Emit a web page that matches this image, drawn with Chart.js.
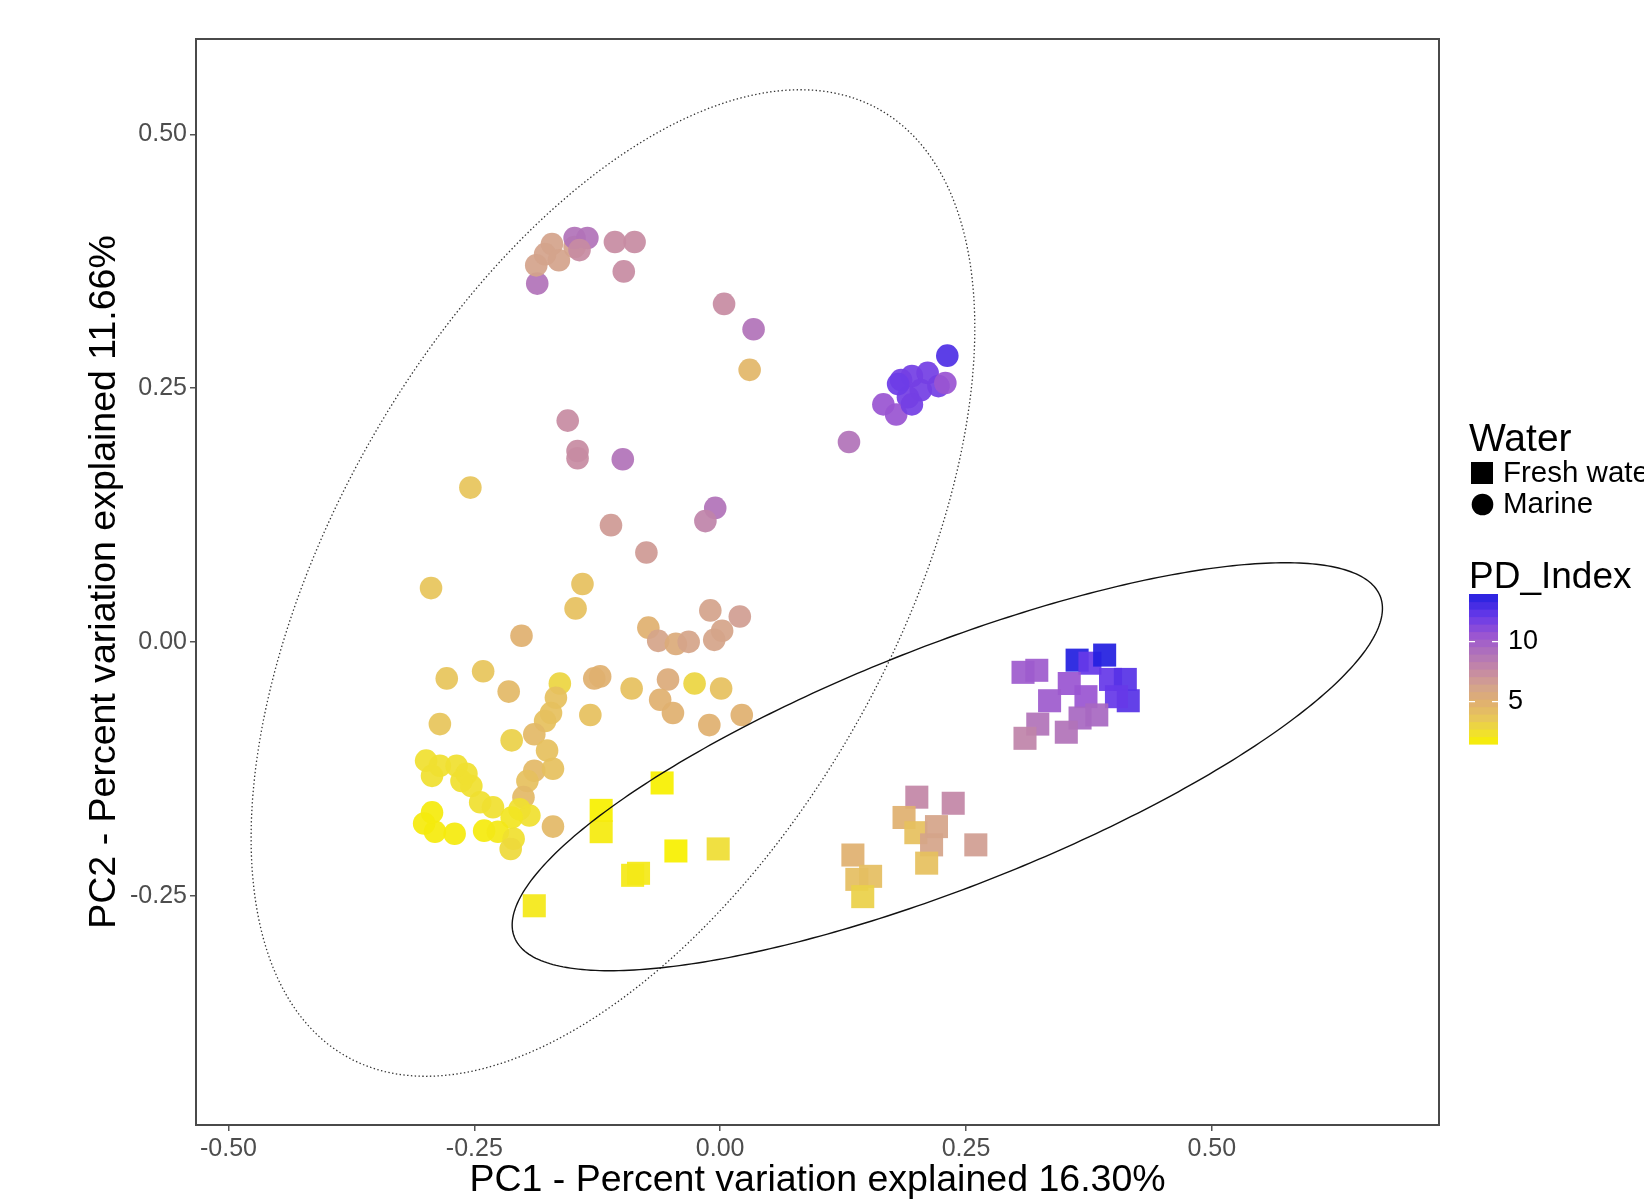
<!DOCTYPE html>
<html>
<head>
<meta charset="utf-8">
<script src="https://cdn.jsdelivr.net/npm/chart.js@4.4.1/dist/chart.umd.min.js"></script>
<style>
  html, body { margin: 0; padding: 0; background: #fff; }
  #wrap { width: 1644px; height: 1203px; }
</style>
</head>
<body>
<div id="wrap"><canvas id="pca"></canvas></div>
<script>
// Axis ticks
const xTicks = [-0.5, -0.25, 0, 0.25, 0.5];
const yTicks = [-0.25, 0, 0.25, 0.5];

// Marine samples (circles)
const marineX = [
  -0.186, -0.187, -0.178, -0.171, -0.164, -0.148, -0.148, -0.135, -0.143, -0.107,
  -0.087, -0.098, 0.004, 0.034, 0.030, -0.155, -0.145, -0.145, -0.099, -0.254,
  -0.005, -0.015, -0.111, -0.075, -0.140, -0.147, -0.294, -0.202, -0.073, -0.063,
  -0.045, -0.032, -0.010, 0.020, 0.002, -0.006, -0.278, -0.241, -0.215, -0.163,
  -0.167, -0.172, -0.178, -0.132, -0.128, -0.122, -0.090, -0.053, -0.061, -0.048,
  -0.026, 0.001, -0.011, 0.022, -0.285, -0.212, -0.189, -0.176, -0.189, -0.196,
  -0.170, -0.200, -0.204, -0.194, -0.170, -0.299, -0.285, -0.268, -0.258, -0.253,
  -0.293, -0.263, -0.244, -0.231, -0.212, -0.293, -0.301, -0.290, -0.270, -0.240,
  -0.226, -0.210, -0.213,
  0.231, 0.184, 0.195, 0.211, 0.204, 0.191, 0.222, 0.229, 0.181, 0.166,
  0.179, 0.195, 0.131
];
const marineY = [
  0.353, 0.371, 0.382, 0.392, 0.376, 0.389, 0.398, 0.398, 0.386, 0.394,
  0.394, 0.365, 0.333, 0.308, 0.268, 0.218, 0.188, 0.181, 0.180, 0.152,
  0.132, 0.119, 0.115, 0.088, 0.057, 0.033, 0.053, 0.006, 0.014, 0.001,
  -0.002, 0.000, 0.031, 0.025, 0.011, 0.002, -0.036, -0.029, -0.049, -0.041,
  -0.055, -0.070, -0.078, -0.072, -0.036, -0.034, -0.046, -0.037, -0.057, -0.070,
  -0.041, -0.046, -0.082, -0.072, -0.081, -0.097, -0.091, -0.107, -0.127, -0.137,
  -0.125, -0.153, -0.165, -0.171, -0.182, -0.117, -0.122, -0.122, -0.130, -0.142,
  -0.132, -0.137, -0.158, -0.163, -0.173, -0.168, -0.179, -0.187, -0.189, -0.186,
  -0.187, -0.194, -0.204,
  0.282, 0.258, 0.262, 0.265, 0.248, 0.241, 0.252, 0.255, 0.254, 0.234,
  0.224, 0.234, 0.197
];
const marinePD = [
  9.0, 6.3, 6.3, 6.3, 6.3, 6.3, 9.0, 9.0, 7.5, 7.5,
  7.5, 7.5, 7.5, 9.0, 4.6, 7.5, 7.5, 7.5, 9.0, 3.8,
  9.0, 8.0, 6.8, 6.8, 4.0, 4.0, 3.8, 5.0, 5.0, 6.2,
  5.5, 6.2, 6.3, 6.6, 6.2, 6.2, 3.8, 3.8, 4.5, 3.0,
  4.0, 4.0, 4.0, 4.0, 5.0, 5.0, 4.0, 5.5, 5.0, 5.0,
  3.0, 4.0, 5.0, 5.0, 3.8, 3.2, 4.5, 4.0, 4.5, 4.0,
  4.0, 4.5, 2.5, 2.5, 4.5, 2.5, 2.5, 2.5, 2.5, 2.5,
  2.5, 2.5, 2.5, 2.5, 2.2, 1.8, 1.8, 1.8, 1.8, 1.8,
  2.0, 2.5, 2.8,
  12.8, 11.8, 11.8, 11.8, 11.8, 11.8, 11.8, 10.6, 12.0, 10.6,
  10.6, 11.8, 9.0
];

// Fresh water samples (squares)
const freshX = [
  -0.189, -0.121, -0.121, -0.059, -0.083, -0.089, -0.045, -0.002,
  0.135, 0.139, 0.153, 0.145, 0.200, 0.237, 0.187, 0.199, 0.220, 0.215, 0.210, 0.260,
  0.308, 0.322, 0.363, 0.376, 0.391, 0.397, 0.412, 0.415, 0.403, 0.355,
  0.335, 0.372, 0.383, 0.366, 0.323, 0.352, 0.310
];
const freshY = [
  -0.260, -0.166, -0.187, -0.139, -0.228, -0.230, -0.206, -0.204,
  -0.210, -0.234, -0.231, -0.251, -0.153, -0.159, -0.173, -0.188, -0.182, -0.200, -0.218, -0.200,
  -0.030, -0.028, -0.018, -0.021, -0.013, -0.037, -0.037, -0.058, -0.054, -0.041,
  -0.058, -0.054, -0.072, -0.075, -0.081, -0.089, -0.095
];
const freshPD = [
  2.0, 1.5, 1.8, 1.5, 2.0, 2.0, 1.5, 2.6,
  5.0, 4.2, 4.2, 3.2, 7.8, 7.8, 5.0, 4.0, 6.2, 6.2, 4.0, 6.6,
  10.3, 10.3, 14.0, 12.2, 14.0, 12.2, 12.6, 12.6, 12.2, 10.6,
  10.3, 10.6, 9.6, 9.6, 9.0, 9.0, 8.0
];

// PD_Index colour scale
const pdStops = [1.5, 2.5, 3.6, 5.0, 6.3, 7.6, 9.2, 10.6, 12.1, 14.0];
const pdColors = ["#f7f000", "#f0e030", "#e8c858", "#e0b070", "#d4a48c", "#c68aa4", "#ae70bc", "#9a55d2", "#6a3ae8", "#2320e0"];
const pdRange = [1.47, 13.97];
const pdLabels = [5, 10];

// Normal-data ellipses: centre and covariance
const marineEllipse = { cx: -0.109, cy: 0.058, sxx: 0.1354, sxy: 0.0925, syy: 0.2362 };
const freshEllipse = { cx: 0.231, cy: -0.123, sxx: 0.1958, sxy: 0.069, syy: 0.0404 };

const FONT = "'Liberation Sans', Arial, sans-serif";

function hexRgb(h) {
  return [1, 3, 5].map((i) => parseInt(h.slice(i, i + 2), 16));
}

// Map a PD value onto the colour scale
function pdColor(v, alpha = 1) {
  let i = 0;
  while (i < pdStops.length - 2 && v > pdStops[i + 1]) i++;
  const t = Math.min(1, Math.max(0, (v - pdStops[i]) / (pdStops[i + 1] - pdStops[i])));
  const a = hexRgb(pdColors[i]);
  const b = hexRgb(pdColors[i + 1]);
  const c = a.map((u, k) => Math.round(u + (b[k] - u) * t));
  return `rgba(${c[0]},${c[1]},${c[2]},${alpha})`;
}

// Draw an ellipse given in data units through the chart scales
function drawEllipse(ctx, xs, ys, e, dash, width, color) {
  const a = Math.sqrt(e.sxx);
  const b = e.sxy / a;
  const c = Math.sqrt(e.syy - b * b);
  ctx.save();
  ctx.setLineDash(dash);
  ctx.lineWidth = width;
  ctx.strokeStyle = color;
  ctx.beginPath();
  for (let k = 0; k <= 360; k++) {
    const t = (k / 360) * Math.PI * 2;
    const px = xs.getPixelForValue(e.cx + a * Math.cos(t));
    const py = ys.getPixelForValue(e.cy + b * Math.cos(t) + c * Math.sin(t));
    if (k === 0) ctx.moveTo(px, py);
    else ctx.lineTo(px, py);
  }
  ctx.closePath();
  ctx.stroke();
  ctx.restore();
}

const extras = {
  id: "extras",
  afterDatasetsDraw(chart) {
    const { ctx, chartArea: area, scales } = chart;
    ctx.save();
    ctx.beginPath();
    ctx.rect(area.left, area.top, area.right - area.left, area.bottom - area.top);
    ctx.clip();
    drawEllipse(ctx, scales.x, scales.y, marineEllipse, [1.4, 2.4], 1.3, "#333");
    drawEllipse(ctx, scales.x, scales.y, freshEllipse, [], 1.4, "#111");
    ctx.restore();

    // panel border
    ctx.save();
    ctx.strokeStyle = "#4a4a4a";
    ctx.lineWidth = 2;
    ctx.strokeRect(area.left, area.top, area.right - area.left, area.bottom - area.top);
    ctx.restore();
  },
  afterDraw(chart) {
    const ctx = chart.ctx;
    ctx.save();
    ctx.fillStyle = "#000";
    ctx.textBaseline = "middle";
    ctx.textAlign = "left";

    // shape legend
    ctx.font = `39px ${FONT}`;
    ctx.fillText("Water", 1469, 440);
    ctx.fillRect(1471, 462, 22, 22);
    ctx.beginPath();
    ctx.arc(1482.5, 504.5, 10.8, 0, Math.PI * 2);
    ctx.fill();
    ctx.font = `29.5px ${FONT}`;
    ctx.fillText("Fresh water", 1503, 474);
    ctx.fillText("Marine", 1503, 505);

    // colour bar
    ctx.font = `37px ${FONT}`;
    ctx.fillText("PD_Index", 1469, 578);
    const barX = 1469, barW = 29, barTop = 594, barH = 150;
    const nbin = 20;
    for (let k = 0; k < nbin; k++) {
      const v = pdRange[0] + ((k + 0.5) / nbin) * (pdRange[1] - pdRange[0]);
      const y0 = barTop + barH - ((k + 1) / nbin) * barH;
      ctx.fillStyle = pdColor(v);
      ctx.fillRect(barX, y0, barW, barH / nbin + 0.6);
    }
    ctx.font = `27px ${FONT}`;
    pdLabels.forEach((v) => {
      const y = barTop + barH - ((v - pdRange[0]) / (pdRange[1] - pdRange[0])) * barH;
      ctx.strokeStyle = "#fff";
      ctx.lineWidth = 1.2;
      ctx.beginPath();
      ctx.moveTo(barX, y); ctx.lineTo(barX + 6, y);
      ctx.moveTo(barX + barW - 6, y); ctx.lineTo(barX + barW, y);
      ctx.stroke();
      ctx.fillStyle = "#000";
      ctx.fillText(String(v), 1508, y);
    });
    ctx.restore();
  },
};

const points = (xs, ys) => xs.map((v, i) => ({ x: v, y: ys[i] }));

new Chart(document.getElementById("pca"), {
  type: "scatter",
  data: {
    datasets: [
      {
        label: "Marine",
        data: points(marineX, marineY),
        pointStyle: "circle",
        pointRadius: 11.3,
        backgroundColor: marinePD.map((v) => pdColor(v, 0.93)),
        borderWidth: 0,
      },
      {
        label: "Fresh water",
        data: points(freshX, freshY),
        pointStyle: "rect",
        pointRadius: 16.3,
        backgroundColor: freshPD.map((v) => pdColor(v, 0.93)),
        borderWidth: 0,
      },
    ],
  },
  options: {
    responsive: true,
    maintainAspectRatio: false,
    animation: false,
    events: [],
    layout: { padding: { left: 70, top: 39, right: 205, bottom: 0 } },
    plugins: { legend: { display: false }, tooltip: { enabled: false } },
    scales: {
      x: {
        type: "linear",
        min: -0.533,
        max: 0.731,
        afterBuildTicks: (s) => { s.ticks = xTicks.map((v) => ({ value: v })); },
        afterFit: (s) => { s.height = 78; },
        ticks: {
          callback: (v) => v.toFixed(2),
          color: "#4d4d4d",
          font: { size: 25, family: FONT },
          padding: 3,
          maxRotation: 0,
          autoSkip: false,
        },
        grid: { drawOnChartArea: false, drawTicks: true, tickLength: 6, color: "#555", lineWidth: 1.5 },
        border: { display: false },
        title: {
          display: true,
          text: "PC1 - Percent variation explained 16.30%",
          color: "#000",
          font: { size: 37.5, family: FONT },
          padding: { top: 0, bottom: 0 },
        },
      },
      y: {
        type: "linear",
        min: -0.476,
        max: 0.594,
        afterBuildTicks: (s) => { s.ticks = yTicks.map((v) => ({ value: v })); },
        afterFit: (s) => { s.width = 126; },
        ticks: {
          callback: (v) => v.toFixed(2),
          color: "#4d4d4d",
          font: { size: 25, family: FONT },
          padding: 3,
          autoSkip: false,
        },
        grid: { drawOnChartArea: false, drawTicks: true, tickLength: 6, color: "#555", lineWidth: 1.5 },
        border: { display: false },
        title: {
          display: true,
          text: "PC2 - Percent variation explained 11.66%",
          color: "#000",
          font: { size: 37.5, family: FONT },
          padding: { top: 12, bottom: 0 },
        },
      },
    },
  },
  plugins: [extras],
});
</script>
</body>
</html>
